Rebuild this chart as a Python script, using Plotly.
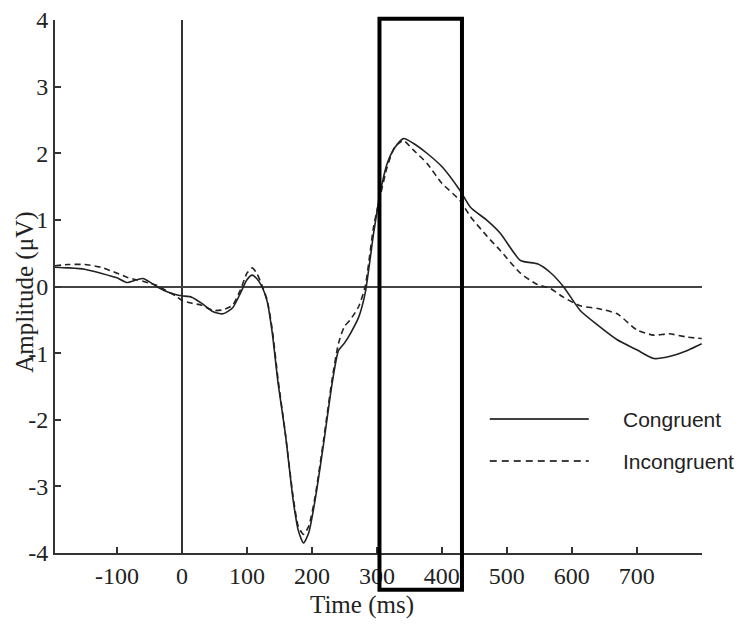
import plotly.graph_objects as go

time_ms = [-196, -175, -150, -125, -100, -85, -70, -60, -50, -39, -25, -10, 0, 15, 30, 48, 63, 78, 90,
           100, 108, 115, 123, 131, 139, 148, 159, 171, 179, 187, 195, 205, 218, 231, 241, 250, 259,
           272, 282, 295, 305, 316, 328, 341, 356, 377, 400, 428, 444, 470, 490, 521, 547, 567, 587,
           613, 640, 670, 700, 726, 750, 778, 800]

congruent = [0.29, 0.28, 0.26, 0.20, 0.13, 0.06, 0.10, 0.12, 0.07, 0.00, -0.07, -0.12, -0.14, -0.16,
             -0.25, -0.38, -0.41, -0.32, -0.10, 0.10, 0.17, 0.12, 0.00, -0.22, -0.70, -1.46, -2.20,
             -3.20, -3.66, -3.85, -3.70, -3.20, -2.36, -1.46, -0.96, -0.85, -0.71, -0.46, -0.10, 0.80,
             1.40, 1.85, 2.09, 2.22, 2.15, 2.00, 1.80, 1.44, 1.19, 0.99, 0.80, 0.39, 0.34, 0.21, 0.00,
             -0.36, -0.58, -0.80, -0.95, -1.08, -1.05, -0.96, -0.86]

incongruent = [0.31, 0.33, 0.33, 0.29, 0.20, 0.14, 0.10, 0.08, 0.05, 0.02, -0.06, -0.14, -0.21, -0.25,
               -0.28, -0.36, -0.35, -0.28, -0.05, 0.20, 0.28, 0.20, 0.02, -0.20, -0.65, -1.40, -2.20,
               -3.15, -3.60, -3.72, -3.60, -3.15, -2.30, -1.40, -0.85, -0.60, -0.50, -0.30, 0.00, 0.90,
               1.35, 1.80, 2.10, 2.19, 2.05, 1.85, 1.55, 1.29, 1.05, 0.75, 0.54, 0.20, 0.03, -0.03,
               -0.16, -0.29, -0.33, -0.41, -0.65, -0.73, -0.71, -0.76, -0.78]

series_names = ["Congruent", "Incongruent"]
x_ticks = [-100, 0, 100, 200, 300, 400, 500, 600, 700]
x_tick_labels = ["-100", "0", "100", "200", "300", "400", "500", "600", "700"]
y_ticks = [-4, -3, -2, -1, 0, 1, 2, 3, 4]
y_tick_labels = ["-4", "-3", "-2", "-1", "0", "1", "2", "3", "4"]
window_ms = [304, 431]
x_title = "Time (ms)"
y_title = "Amplitude (μV)"

serif = "Liberation Serif"
fig = go.Figure()
fig.add_trace(go.Scatter(x=time_ms, y=congruent, mode="lines", name=series_names[0],
                         line=dict(color="#222222", width=1.6, shape="spline", smoothing=0.6)))
fig.add_trace(go.Scatter(x=time_ms, y=incongruent, mode="lines", name=series_names[1],
                         line=dict(color="#222222", width=1.6, dash="6px,4px", shape="spline", smoothing=0.6)))

# analysis window rectangle
fig.add_shape(type="rect", xref="x", yref="paper", x0=window_ms[0], x1=window_ms[1],
              y0=-0.069, y1=1.0024, line=dict(color="black", width=4), fillcolor="rgba(0,0,0,0)",
              layer="above")

# legend drawn manually (long line samples)
fig.add_shape(type="line", xref="paper", yref="paper", x0=0.672, x1=0.825, y0=0.2514, y1=0.2514,
              line=dict(color="black", width=1.5))
fig.add_shape(type="line", xref="paper", yref="paper", x0=0.672, x1=0.825, y0=0.1726, y1=0.1726,
              line=dict(color="black", width=1.5, dash="7px,5px"))
for name, yy in zip(series_names, [0.2514, 0.1726]):
    fig.add_annotation(xref="paper", yref="paper", x=0.875, y=yy, text=name, showarrow=False,
                       xanchor="left", yanchor="middle",
                       font=dict(family="Liberation Sans", size=21, color="#222222"))

# axis titles
fig.add_annotation(xref="paper", yref="paper", x=0.4745, y=-0.0976, text=x_title, showarrow=False,
                   xanchor="center", yanchor="middle", font=dict(family=serif, size=25, color="#222222"))
fig.add_annotation(xref="paper", yref="paper", x=-0.0464, y=0.49, text=y_title, showarrow=False,
                   textangle=-90, xanchor="center", yanchor="middle",
                   font=dict(family=serif, size=25, color="#222222"))

# the page body adds an 8px offset, so the figure is 8px smaller than the window
fig.update_layout(
    width=739, height=616,
    margin=dict(l=47, r=45, t=12, b=71, autoexpand=False),
    paper_bgcolor="white", plot_bgcolor="white",
    showlegend=False,
    font=dict(family=serif, size=24, color="#222222"),
    xaxis=dict(range=[-195.5, 800.5], tickvals=x_ticks, ticktext=x_tick_labels, ticks="inside",
               ticklen=6, tickwidth=1.5, tickcolor="#333333", showline=True, linecolor="#333333",
               linewidth=1.8, showgrid=False, zeroline=True, zerolinecolor="#333333", zerolinewidth=1.5,
               automargin=False, ticklabeloverflow="allow", tickfont=dict(family=serif, size=24)),
    yaxis=dict(range=[-4, 4], tickvals=y_ticks, ticktext=y_tick_labels, ticks="inside", ticklen=6,
               tickwidth=1.5, tickcolor="#333333", showline=True, linecolor="#333333", linewidth=1.8,
               showgrid=False, zeroline=True, zerolinecolor="#444444", zerolinewidth=1.5,
               automargin=False, ticklabeloverflow="allow", tickfont=dict(family=serif, size=24)),
)

fig.write_html("out.html")
